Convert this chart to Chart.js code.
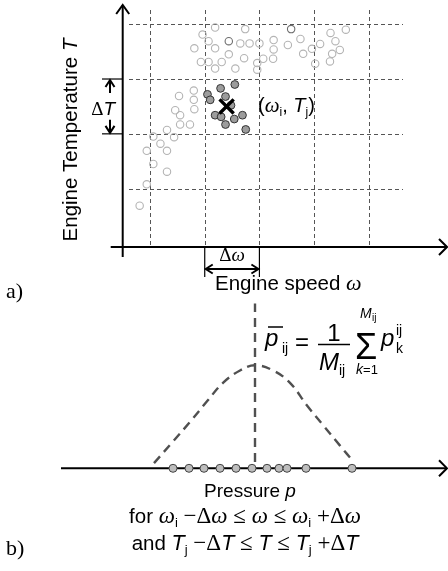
<!DOCTYPE html>
<html>
<head>
<meta charset="utf-8">
<script src="https://cdn.jsdelivr.net/npm/chart.js@4.4.1/dist/chart.umd.min.js"></script>
<style>
  html, body { margin: 0; padding: 0; background: #fff; }
  #wrap { position: relative; width: 448px; height: 571px; overflow: hidden; background: #fff; }
  #wrap canvas { position: absolute; left: 0; top: 0; }
</style>
</head>
<body>
<div id="wrap">
  <canvas id="top" width="448" height="571"></canvas>
  <canvas id="bottom" width="448" height="571"></canvas>
</div>
<script>
// ---------------- DATA ----------------
// (a) engine speed / temperature samples, in grid-cell units (grid spacing = Δω, ΔT)
const speedGrid = [1, 2, 3, 4, 5];
const tempGrid = [1, 2, 3, 4];

const lightSpeed = [2.19, 2.74, 4.30, 4.58, 1.96, 2.07, 2.65, 2.82, 3.00, 3.26, 3.26, 3.52, 3.75, 4.11, 4.39,
  1.81, 2.19, 2.44, 2.72, 3.96, 3.80, 4.47, 4.33, 1.93, 2.07, 2.31, 2.19, 2.56, 2.96, 3.07, 3.25, 2.96, 4.02, 4.29,
  1.80, 1.53, 1.80, 1.81, 1.46, 1.55, 1.55, 1.73, 1.31, 1.06, 1.44, 1.19, 0.94, 1.31, 1.06, 1.31, 0.94, 0.81];
const lightTemp = [3.94, 3.91, 3.84, 3.90, 3.81, 3.69, 3.65, 3.65, 3.65, 3.71, 3.54, 3.62, 3.73, 3.64, 3.69,
  3.56, 3.56, 3.45, 3.38, 3.55, 3.46, 3.53, 3.46, 3.31, 3.31, 3.31, 3.19, 3.19, 3.29, 3.37, 3.37, 3.17, 3.28, 3.32,
  2.79, 2.69, 2.62, 2.45, 2.43, 2.34, 2.17, 2.17, 2.07, 1.95, 1.94, 1.82, 1.69, 1.69, 1.45, 1.31, 1.08, 0.69];

const greySpeed = [3.58, 2.44];
const greyTemp = [3.91, 3.69];

const cellSpeed = [2.55, 2.29, 2.05, 2.10, 2.38, 2.48, 2.19, 2.30, 2.69, 2.54, 2.38, 2.75];
const cellTemp = [2.90, 2.83, 2.72, 2.62, 2.68, 2.52, 2.34, 2.31, 2.34, 2.27, 2.17, 2.08];

const cellCentre = { speed: 2.4, temp: 2.5 };

// (b) pressures of the samples inside the cell and their density curve
const pressureSamples = [11.2, 12.8, 14.3, 15.9, 17.5, 19.1, 20.6, 21.8, 22.6, 24.5, 29.1];
const densityP = [9.3, 11.2, 12.9, 14.6, 16.2, 17.9, 19.4, 21.2, 22.9, 24.6, 26.2, 27.9, 29.2];
const densityVal = [0.05, 0.26, 0.45, 0.65, 0.83, 0.95, 1.0, 0.95, 0.83, 0.61, 0.42, 0.22, 0.07];
const meanPressure = 19.4;

// ---------------- helpers ----------------
const SANS = '"Liberation Sans", Arial, Helvetica, sans-serif';
const SERIF = '"Liberation Serif", "Times New Roman", serif';
const F = {
  sans: '19px ' + SANS,
  sansI: 'italic 19px ' + SANS,
  serif: '19px ' + SERIF,
  serifI: 'italic 19px ' + SERIF,
  sub: '12px ' + SANS,
  lab: '20.5px ' + SANS,
  labW: 'italic 22px ' + SERIF,
  vlab: '20.5px ' + SANS,
  vlabI: 'italic 20.5px ' + SANS,
  cs: '20.5px ' + SANS,
  csI: 'italic 21.5px ' + SANS,
  cr: '23px ' + SERIF,
  crI: 'italic 23px ' + SERIF,
  csub: '13px ' + SANS
};
function pts(xs, ys) { return xs.map((v, i) => ({ x: v, y: ys[i] })); }

function runs(ctx, list, x, y, align) {
  let w = 0;
  list.forEach(r => { ctx.font = r[1]; w += ctx.measureText(r[0]).width; });
  let cx = align === 'center' ? x - w / 2 : (align === 'right' ? x - w : x);
  ctx.textAlign = 'left';
  ctx.textBaseline = 'alphabetic';
  list.forEach(r => {
    ctx.font = r[1];
    ctx.fillText(r[0], cx, y + (r[2] || 0));
    cx += ctx.measureText(r[0]).width;
  });
}
function line(ctx, x1, y1, x2, y2) {
  ctx.beginPath(); ctx.moveTo(x1, y1); ctx.lineTo(x2, y2); ctx.stroke();
}
function chevron(ctx, x, y, dx, dy, L, W) {
  const bx = x - dx * L, by = y - dy * L, px = -dy, py = dx;
  ctx.beginPath();
  ctx.moveTo(bx + px * W, by + py * W); ctx.lineTo(x, y); ctx.lineTo(bx - px * W, by - py * W);
  ctx.stroke();
}

// ---------------- (a) ----------------
const topDecor = {
  id: 'topDecor',
  beforeDatasetsDraw(chart) {
    const { ctx, scales: { x, y }, chartArea: a } = chart;
    ctx.save();
    ctx.strokeStyle = '#555';
    ctx.lineWidth = 1;
    ctx.setLineDash([4, 3]);
    speedGrid.forEach(v => {
      const X = Math.round(x.getPixelForValue(v)) + 0.5;
      line(ctx, X, 10, X, a.bottom);
    });
    tempGrid.forEach(v => {
      const Y = Math.round(y.getPixelForValue(v)) + 0.5;
      line(ctx, 129, Y, 403, Y);
    });
    ctx.setLineDash([]);
    ctx.strokeStyle = '#000';
    ctx.lineWidth = 2;
    line(ctx, a.left, a.top, a.left, a.bottom + 10);
    line(ctx, a.left - 12, a.bottom, a.right, a.bottom);
    chevron(ctx, a.left, a.top, 0, -1, 9, 6.5);
    chevron(ctx, a.right, a.bottom, 1, 0, 8, 8);
    ctx.restore();
  },
  afterDraw(chart) {
    const { ctx, scales: { x, y }, chartArea: a } = chart;
    ctx.save();
    ctx.fillStyle = '#000';
    ctx.strokeStyle = '#000';
    ctx.lineWidth = 2;

    // y-axis title (rotated)
    ctx.save();
    ctx.translate(77, 140);
    ctx.rotate(-Math.PI / 2);
    runs(ctx, [['Engine Temperature ', F.vlab], ['T', F.vlabI]], 0, 0, 'center');
    ctx.restore();

    // ΔT marker
    const y3 = y.getPixelForValue(3), y2 = y.getPixelForValue(2);
    ctx.lineWidth = 1.2;
    line(ctx, 102, y3, a.left, y3);
    line(ctx, 102, y2, a.left, y2);
    ctx.lineWidth = 2;
    line(ctx, 110, y3 + 1, 110, y3 + 14);
    line(ctx, 110, y2 - 14, 110, y2 - 1);
    chevron(ctx, 110, y3 + 1, 0, -1, 7, 4.5);
    chevron(ctx, 110, y2 - 1, 0, 1, 7, 4.5);
    runs(ctx, [['\u0394', F.serif], ['T', F.sansI]], 115, 115, 'right');

    // Δω marker
    const x2 = x.getPixelForValue(2), x3 = x.getPixelForValue(3);
    ctx.lineWidth = 1.2;
    line(ctx, x2, a.bottom, x2, a.bottom + 30);
    line(ctx, x3, a.bottom, x3, a.bottom + 30);
    ctx.lineWidth = 2;
    line(ctx, x2 + 1, 269, x3 - 1, 269);
    chevron(ctx, x2 + 1, 269, -1, 0, 7, 4.5);
    chevron(ctx, x3 - 1, 269, 1, 0, 7, 4.5);
    runs(ctx, [['\u0394', F.serif], ['\u03c9', F.serifI]], (x2 + x3) / 2, 261, 'center');

    // (ωi, Tj)
    runs(ctx, [['(', '20px ' + SANS], ['\u03c9', 'italic 21px ' + SERIF], ['i', F.sub, 4], [', ', '20px ' + SANS],
      ['T', 'italic 20px ' + SANS], ['j', F.sub, 4], [')', '20px ' + SANS]], 258, 112, 'left');

    // x-axis title
    runs(ctx, [['Engine speed ', F.lab], ['\u03c9', F.labW]], 215, 290, 'left');

    // a)
    ctx.font = '22px ' + SERIF;
    ctx.fillText('a)', 6, 298);
    ctx.restore();
  }
};

new Chart(document.getElementById('top'), {
  type: 'scatter',
  data: {
    datasets: [
      { data: [{ x: cellCentre.speed, y: cellCentre.temp }], pointStyle: 'crossRot', pointRadius: 10,
        borderColor: '#000', borderWidth: 3.4, clip: false },
      { data: pts(cellSpeed, cellTemp), pointRadius: 3.9, backgroundColor: '#9c9c9c',
        borderColor: '#333', borderWidth: 1, clip: false },
      { data: pts(greySpeed, greyTemp), pointRadius: 3.7, backgroundColor: 'rgba(255,255,255,0)',
        borderColor: '#6e6e6e', borderWidth: 1.1, clip: false },
      { data: pts(lightSpeed, lightTemp), pointRadius: 3.7, backgroundColor: 'rgba(255,255,255,0)',
        borderColor: '#b4b4b4', borderWidth: 1.1, clip: false }
    ]
  },
  options: {
    responsive: false,
    animation: false,
    events: [],
    layout: { autoPadding: false, padding: { left: 122.7, right: 1, top: 5, bottom: 324 } },
    plugins: { legend: { display: false }, tooltip: { enabled: false } },
    scales: {
      x: { type: 'linear', display: false, min: 0.5, max: 6.43 },
      y: { type: 'linear', display: false, min: -0.064, max: 4.35 }
    }
  },
  plugins: [topDecor]
});

// ---------------- (b) ----------------
const botDecor = {
  id: 'botDecor',
  beforeDatasetsDraw(chart) {
    const { ctx, chartArea: a } = chart;
    ctx.save();
    ctx.strokeStyle = '#000';
    ctx.lineWidth = 2;
    line(ctx, a.left, a.bottom, a.right, a.bottom);
    chevron(ctx, a.right, a.bottom, 1, 0, 8, 8);
    ctx.restore();
  },
  afterDraw(chart) {
    const { ctx } = chart;
    ctx.save();
    ctx.fillStyle = '#000';
    ctx.strokeStyle = '#000';

    // formula  p̄ij = 1/Mij Σ_{k=1}^{Mij} p_k^ij
    const big = '24px ' + SANS, bigI = 'italic 24px ' + SANS;
    const s14 = '14px ' + SANS, s14I = 'italic 14px ' + SANS;
    ctx.textBaseline = 'alphabetic';
    ctx.textAlign = 'left';
    ctx.font = bigI; ctx.fillText('p', 265, 346);
    ctx.lineWidth = 1.5; line(ctx, 268, 327, 283, 327);
    ctx.font = s14; ctx.fillText('ij', 282, 353);
    ctx.font = big; ctx.fillText('=', 295, 350);
    ctx.textAlign = 'center';
    ctx.fillText('1', 334, 341);
    line(ctx, 318, 344.5, 350, 344.5);
    ctx.textAlign = 'left';
    ctx.font = bigI; ctx.fillText('M', 319, 370);
    ctx.font = s14; ctx.fillText('ij', 339, 375);
    ctx.font = '36px ' + SANS; ctx.fillText('\u03a3', 355, 359);
    ctx.font = s14I; ctx.fillText('M', 360, 318);
    ctx.font = '10px ' + SANS; ctx.fillText('ij', 372, 321);
    runs(ctx, [['k', s14I], ['=1', '13px ' + SANS]], 367, 374, 'center');
    ctx.font = bigI; ctx.fillText('p', 381, 346);
    ctx.font = s14; ctx.fillText('ij', 396, 335); ctx.fillText('k', 396, 353);

    // labels
    runs(ctx, [['Pressure ', F.sans], ['p', F.sansI]], 250, 497, 'center');
    runs(ctx, [['for ', F.cs], ['\u03c9', F.crI], ['i', F.csub, 4], [' \u2212\u0394', F.cr], ['\u03c9', F.crI],
      [' \u2264 ', F.cr], ['\u03c9', F.crI], [' \u2264 ', F.cr], ['\u03c9', F.crI], ['i', F.csub, 4],
      [' +\u0394', F.cr], ['\u03c9', F.crI]], 245, 523, 'center');
    runs(ctx, [['and ', F.cs], ['T', F.csI], ['j', F.csub, 4], [' \u2212\u0394', F.cr], ['T', F.csI],
      [' \u2264 ', F.cr], ['T', F.csI], [' \u2264 ', F.cr], ['T', F.csI], ['j', F.csub, 4],
      [' +\u0394', F.cr], ['T', F.csI]], 245, 550, 'center');

    ctx.font = '22px ' + SERIF;
    ctx.textAlign = 'left';
    ctx.fillText('b)', 6, 555);
    ctx.restore();
  }
};

new Chart(document.getElementById('bottom'), {
  type: 'scatter',
  data: {
    datasets: [
      { data: pressureSamples.map(p => ({ x: p, y: 0 })), pointRadius: 4, backgroundColor: '#bdbdbd',
        borderColor: '#444', borderWidth: 1, clip: false },
      { data: pts(densityP, densityVal), showLine: true, pointRadius: 0, borderColor: '#505050',
        borderWidth: 2.4, borderDash: [9, 6], tension: 0.4, clip: false },
      { data: [{ x: meanPressure, y: 0.06 }, { x: meanPressure, y: 1.6 }], showLine: true, pointRadius: 0,
        borderColor: '#505050', borderWidth: 2.4, borderDash: [9, 6], clip: false }
    ]
  },
  options: {
    responsive: false,
    animation: false,
    events: [],
    layout: { autoPadding: false, padding: { left: 61, right: 1, top: 303.5, bottom: 102.7 } },
    plugins: { legend: { display: false }, tooltip: { enabled: false } },
    scales: {
      x: { type: 'linear', display: false, min: 0, max: 38.6 },
      y: { type: 'linear', display: false, min: 0, max: 1.6 }
    }
  },
  plugins: [botDecor]
});
</script>
</body>
</html>
